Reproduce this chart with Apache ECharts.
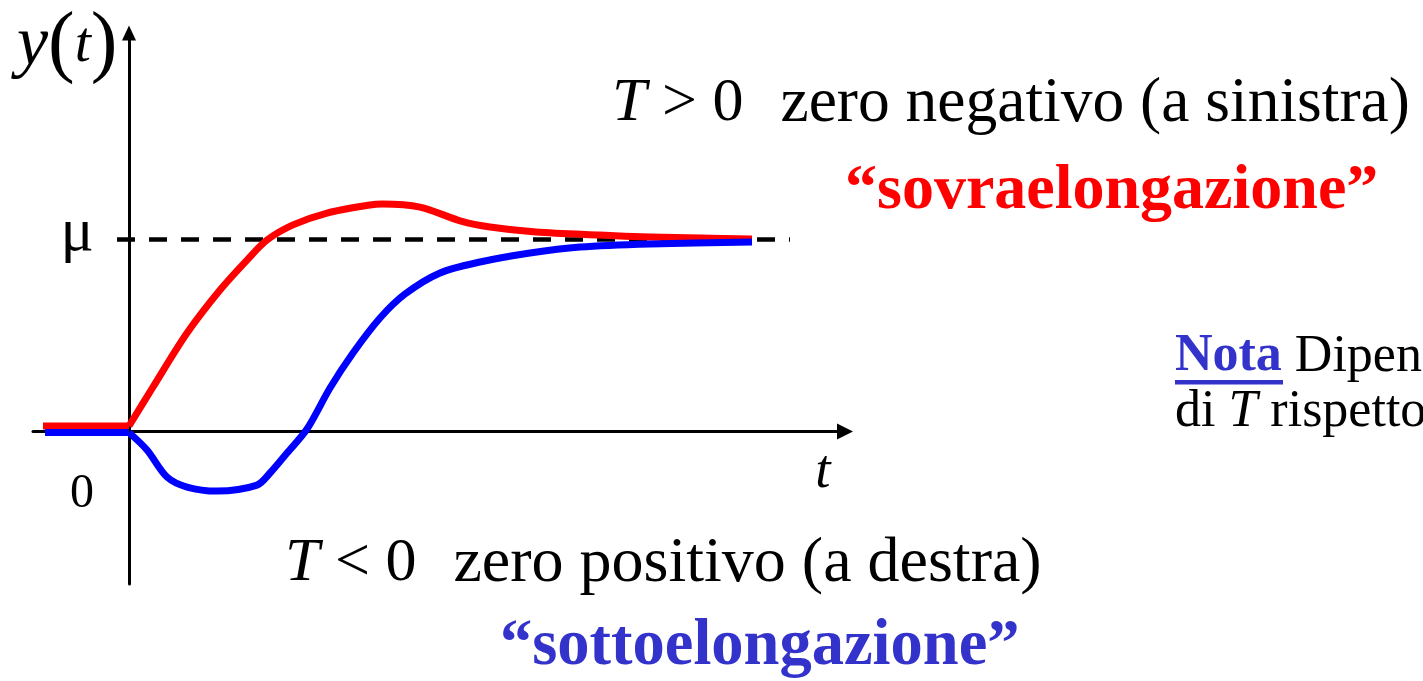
<!DOCTYPE html>
<html>
<head>
<meta charset="utf-8">
<title>Risposta al gradino: zero negativo / zero positivo</title>
<script src="https://cdn.jsdelivr.net/npm/echarts@6/dist/echarts.min.js"></script>
<style>
  html, body { margin: 0; padding: 0; background: #ffffff; }
  #chart { width: 1423px; height: 681px; }
</style>
</head>
<body>
<div id="chart"></div>
<script>
// Step responses of a first-order-zero system (time t, output y normalised to the gain μ = 1)

// Before the step (t < 0): output at rest
const tPreOver  = [-0.86, 0];
const yPreOver  = [0.029, 0.029];
const tPreUnder = [-0.84, 0];
const yPreUnder = [-0.005, -0.005];

// T > 0 (negative zero): overshoot, "sovraelongazione"
const tOver = [0, 0.24, 0.58, 0.91, 1.18, 1.38, 1.64, 1.98, 2.41, 2.53, 2.91, 3.32, 3.61, 4.07, 4.71, 5.21, 5.71, 6.23];
const yOver = [0.029, 0.232, 0.513, 0.737, 0.893, 0.997, 1.076, 1.138, 1.180, 1.185, 1.169, 1.096, 1.065, 1.039, 1.023, 1.013, 1.008, 1.003];

// T < 0 (positive zero): undershoot, "sottoelongazione"
const tUnder = [0, 0.18, 0.38, 0.58, 0.88, 1.28, 1.41, 1.58, 1.78, 2.01, 2.24, 2.51, 2.76, 3.11, 3.51, 4.01, 4.51, 5.21, 6.23];
const yUnder = [-0.005, -0.096, -0.237, -0.289, -0.310, -0.279, -0.216, -0.112, 0.013, 0.227, 0.409, 0.591, 0.716, 0.826, 0.883, 0.930, 0.961, 0.977, 0.987];

// Steady-state level μ (dashed reference)
const muLevel = 1;
const muSpan = [-0.12, 6.61];

// Axis extents (t and y)
const tRange = [-0.96, 7.16];
const yRange = [-0.794, 2.0755];

const zip = (xs, ys) => xs.map((x, i) => [x, ys[i]]);

const RED = '#ff0000';
const BLUE = '#0000ff';
const TEXT_BLUE = '#3333cc';
const SERIF = '"Liberation Serif", "Times New Roman", serif';

const chart = echarts.init(document.getElementById('chart'), null, { renderer: 'canvas' });

const axisCommon = {
  type: 'value',
  axisLabel: { show: false },
  axisTick: { show: false },
  splitLine: { show: false },
  axisLine: {
    show: true,
    onZero: true,
    symbol: ['none', 'triangle'],
    lineStyle: { color: '#000', width: 3 }
  }
};

const curveStyle = (color) => ({ color: color, width: 7, cap: 'butt', join: 'round' });

chart.setOption({
  animation: false,
  backgroundColor: '#ffffff',
  grid: { left: 33, right: 578, top: 33, bottom: 97, containLabel: false, outerBoundsMode: 'none' },
  xAxis: Object.assign({}, axisCommon, {
    min: tRange[0], max: tRange[1],
    axisLine: Object.assign({}, axisCommon.axisLine, { symbolSize: [16, 16] })
  }),
  yAxis: Object.assign({}, axisCommon, {
    min: yRange[0], max: yRange[1],
    axisLine: Object.assign({}, axisCommon.axisLine, { symbolSize: [14, 15] })
  }),
  series: [
    {
      name: 'μ',
      type: 'line',
      data: zip(muSpan, [muLevel, muLevel]),
      symbol: 'none',
      silent: true,
      z: 1,
      lineStyle: { color: '#000', width: 4.5, type: [18, 14] }
    },
    {
      name: 'T > 0 (t < 0)',
      type: 'line',
      data: zip(tPreOver, yPreOver),
      symbol: 'none',
      z: 3,
      lineStyle: curveStyle(RED)
    },
    {
      name: 'T > 0',
      type: 'line',
      data: zip(tOver, yOver),
      symbol: 'none',
      smooth: 0.3,
      z: 3,
      lineStyle: curveStyle(RED)
    },
    {
      name: 'T < 0 (t < 0)',
      type: 'line',
      data: zip(tPreUnder, yPreUnder),
      symbol: 'none',
      z: 4,
      lineStyle: curveStyle(BLUE)
    },
    {
      name: 'T < 0',
      type: 'line',
      data: zip(tUnder, yUnder),
      symbol: 'none',
      smooth: 0.3,
      z: 4,
      lineStyle: curveStyle(BLUE)
    }
  ],
  graphic: [
    // axis names and levels
    {
      type: 'text', x: 17, y: 46, z: 10,
      style: {
        text: '{v|y}{p|(}{v2|t}{p|)}',
        align: 'left', verticalAlign: 'middle',
        rich: {
          v:  { fontFamily: SERIF, fontStyle: 'italic', fontSize: 70, fill: '#000' },
          v2: { fontFamily: SERIF, fontStyle: 'italic', fontSize: 58, fill: '#000' },
          p:  { fontFamily: SERIF, fontSize: 80, fill: '#000' }
        }
      }
    },
    {
      type: 'text', x: 77, y: 234, z: 10,
      style: { text: 'μ', font: '62px ' + SERIF, fill: '#000', align: 'center', verticalAlign: 'middle' }
    },
    {
      type: 'text', x: 82, y: 494, z: 10,
      style: { text: '0', font: '48px ' + SERIF, fill: '#000', align: 'center', verticalAlign: 'middle' }
    },
    {
      type: 'text', x: 823, y: 473, z: 10,
      style: { text: 't', font: 'italic 55px ' + SERIF, fill: '#000', align: 'center', verticalAlign: 'middle' }
    },
    // T > 0 annotation
    {
      type: 'text', x: 612, y: 104, z: 10,
      style: {
        text: '{i|T} > 0  {r|zero negativo (a sinistra)}',
        font: '62px ' + SERIF, fill: '#000', align: 'left', verticalAlign: 'middle',
        rich: {
          i: { fontFamily: SERIF, fontStyle: 'italic', fontSize: 62, fill: '#000' },
          r: { fontFamily: SERIF, fontSize: 63.5, fill: '#000', padding: [0, 0, 0, 6] }
        }
      }
    },
    {
      type: 'text', x: 845, y: 191, z: 10,
      style: { text: '\u201csovraelongazione\u201d', font: 'bold 64px ' + SERIF, fill: RED, align: 'left', verticalAlign: 'middle' }
    },
    // T < 0 annotation
    {
      type: 'text', x: 285, y: 564, z: 10,
      style: {
        text: '{i|T} < 0  {r|zero positivo (a destra)}',
        font: '62px ' + SERIF, fill: '#000', align: 'left', verticalAlign: 'middle',
        rich: {
          i: { fontFamily: SERIF, fontStyle: 'italic', fontSize: 62, fill: '#000' },
          r: { fontFamily: SERIF, fontSize: 64, fill: '#000', padding: [0, 0, 0, 6] }
        }
      }
    },
    {
      type: 'text', x: 500, y: 647, z: 10,
      style: { text: '\u201csottoelongazione\u201d', font: 'bold 64.5px ' + SERIF, fill: TEXT_BLUE, align: 'left', verticalAlign: 'middle' }
    },
    // side note
    {
      type: 'text', x: 1175, y: 357, z: 10,
      style: {
        text: '{b|Nota} {n|Dipende}',
        font: '52px ' + SERIF, fill: '#000',
        align: 'left', verticalAlign: 'middle',
        rich: {
          b: { fontFamily: SERIF, fontWeight: 'bold', fontSize: 52, fill: TEXT_BLUE },
          n: { fontFamily: SERIF, fontSize: 52, fill: '#000' }
        }
      }
    },
    {
      type: 'rect', z: 10,
      shape: { x: 1175, y: 380, width: 108, height: 4.5 },
      style: { fill: TEXT_BLUE }
    },
    {
      type: 'text', x: 1175, y: 412, z: 10,
      style: {
        text: 'di {i|T} rispetto',
        font: '52px ' + SERIF, fill: '#000', align: 'left', verticalAlign: 'middle',
        rich: {
          i: { fontFamily: SERIF, fontStyle: 'italic', fontSize: 52, fill: '#000' }
        }
      }
    }
  ]
});
</script>
</body>
</html>
